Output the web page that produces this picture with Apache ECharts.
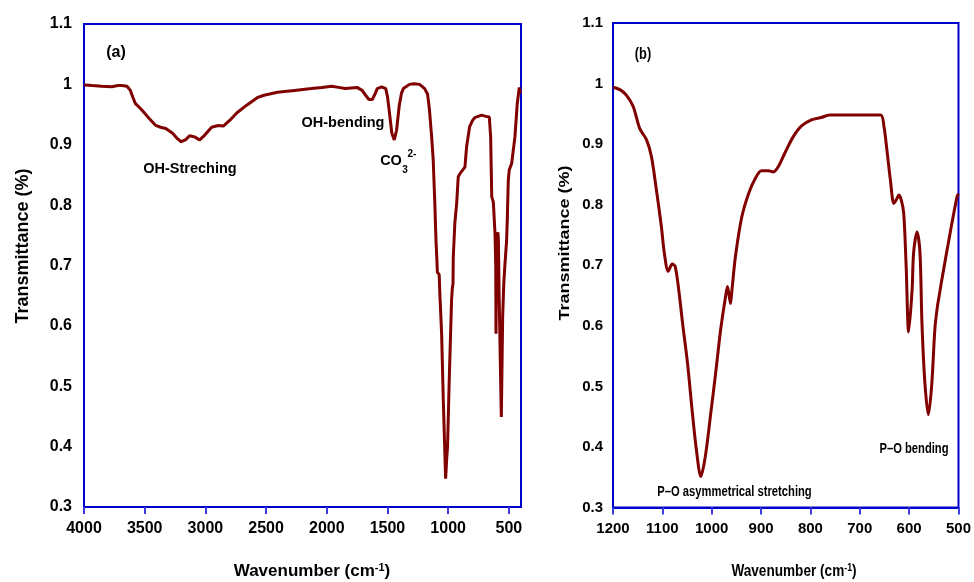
<!DOCTYPE html>
<html>
<head>
<meta charset="utf-8">
<script src="https://cdn.jsdelivr.net/npm/echarts@6/dist/echarts.min.js"></script>
<style>
html,body{margin:0;padding:0;background:#fff;}
#c{width:974px;height:582px;}
</style>
</head>
<body>
<div id="c"></div>
<script>
// ---------- data ----------
const leftWavenumber = [4000,3930,3855,3771,3720,3688,3646,3618,3600,3576,3535,3500,3465,3409,3370,3326,3270,3230,3200,3164,3130,3089,3047,3005,2949,2894,2852,2796,2740,2657,2573,2517,2406,2266,2127,2040,1960,1904,1848,1751,1709,1680,1653,1625,1600,1584,1547,1514,1500,1486,1464,1444,1425,1403,1385,1369,1319,1280,1235,1194,1170,1155,1136,1123,1110,1100,1092,1089,1074,1068,1054,1040,1028,1021,1012,1005,992,980,972,966,960,958,945,930,917,900,889,862,848,823,800,781,724,690,661,650,641,628,622,614,608,606,602,596,590,586,580,573,567,562,556,551,542,532,519,513,505,497,477,450,431,414,405];
const leftTransmittance = [0.999,0.998,0.997,0.996,0.998,0.998,0.997,0.990,0.980,0.968,0.960,0.952,0.944,0.932,0.929,0.927,0.919,0.910,0.905,0.908,0.915,0.913,0.908,0.916,0.929,0.932,0.931,0.941,0.953,0.966,0.978,0.982,0.987,0.990,0.993,0.995,0.997,0.995,0.993,0.995,0.990,0.982,0.975,0.975,0.985,0.993,0.996,0.993,0.980,0.957,0.919,0.908,0.924,0.965,0.985,0.993,1.000,1.001,1.000,0.993,0.984,0.960,0.913,0.874,0.803,0.740,0.705,0.689,0.685,0.650,0.588,0.476,0.394,0.347,0.380,0.400,0.505,0.588,0.642,0.662,0.670,0.714,0.770,0.803,0.847,0.853,0.855,0.863,0.897,0.930,0.940,0.945,0.949,0.947,0.946,0.913,0.814,0.805,0.803,0.753,0.700,0.587,0.700,0.750,0.755,0.740,0.650,0.570,0.500,0.449,0.540,0.615,0.670,0.703,0.740,0.775,0.840,0.858,0.869,0.913,0.968,0.995,0.985];

const rightWavenumber = [1200,1186,1173,1159,1146,1132,1122,1112,1102,1096,1088,1080,1074,1066,1059,1049,1039,1031,1022,1013,1002,992,982,972,968,962,959,952,939,925,912,899,885,875,865,852,835,818,798,778,761,711,658,651,645,638,631,626,621,616,611,606,601,594,591,584,578,574,568,561,554,548,543,538,534,517,503,500];
const rightTransmittance = [0.994,0.990,0.981,0.962,0.926,0.907,0.879,0.824,0.764,0.720,0.690,0.702,0.698,0.654,0.604,0.538,0.455,0.395,0.351,0.384,0.455,0.522,0.593,0.648,0.665,0.637,0.659,0.714,0.780,0.819,0.843,0.856,0.856,0.854,0.863,0.885,0.912,0.930,0.940,0.944,0.948,0.948,0.948,0.929,0.890,0.841,0.802,0.808,0.816,0.808,0.786,0.698,0.590,0.659,0.720,0.755,0.720,0.604,0.505,0.453,0.505,0.593,0.630,0.655,0.675,0.753,0.813,0.818];

const leftTicks = [4000,3500,3000,2500,2000,1500,1000,500];
const rightTicks = [1200,1100,1000,900,800,700,600,500];

const leftNotes = ['(a)','OH-Streching','OH-bending','CO','3','2-'];
const rightNotes = ['(b)','P\u2013O asymmetrical stretching','P\u2013O bending'];

// ---------- styles ----------
const FONT = "'Liberation Sans', Arial, sans-serif";
const BLUE = '#0000cc';
const TICKBLUE = '#3a3ae0';
const LINE = '#800000';
const SQ = 0.8; // horizontal squeeze of right panel text

function zip(a,b){ return a.map((v,i)=>[v,b[i]]); }

function xAxisCfg(gi, min, max, ticks, size, useCustom){
  const c = {
    type:'value', gridIndex:gi, inverse:true, min:min, max:max,
    axisLine:{show:true, onZero:false, lineStyle:{color:BLUE, width:2}},
    axisTick:{show:true, length:7, lineStyle:{color:TICKBLUE, width:2}},
    axisLabel:{color:'#000', fontSize:size, fontWeight:'bold', fontFamily:FONT, margin:14,
      formatter:v=>String(Math.round(v))},
    splitLine:{show:false}
  };
  if(useCustom){
    c.axisTick.customValues = ticks;
    c.axisLabel.customValues = ticks;
  } else {
    c.interval = 100;
  }
  return c;
}
function yAxisCfg(gi, size, margin){
  return {
    type:'value', gridIndex:gi, min:0.3, max:1.1, interval:0.1,
    axisLine:{show:true, lineStyle:{color:BLUE, width:2}},
    axisTick:{show:false},
    axisLabel:{color:'#000', fontSize:size, fontWeight:'bold', fontFamily:FONT, margin:margin,
      formatter:v=>String(+v.toFixed(1))},
    splitLine:{show:false}
  };
}
function txt(x,y,text,size,extra){
  return Object.assign({type:'text', x:x, y:y, silent:true,
    style:{text:text, fill:'#000', fontSize:size, fontWeight:'bold', fontFamily:FONT,
      align:'center', verticalAlign:'middle'}}, extra||{});
}
function titleX(x,y,extra){
  return Object.assign({type:'text', x:x, y:y, silent:true,
    style:{text:'Wavenumber (cm{s|-1})', fill:'#000', fontSize:17, fontWeight:'bold', fontFamily:FONT,
      align:'center', verticalAlign:'middle',
      rich:{s:{fontSize:11, fontWeight:'bold', fontFamily:FONT, verticalAlign:'top', fill:'#000'}}}}, extra||{});
}

const chart = echarts.init(document.getElementById('c'), null, {renderer:'canvas'});
chart.setOption({
  animation:false,
  backgroundColor:'#fff',
  grid:[
    {left:84, top:24, width:437, height:483, show:true, borderColor:BLUE, borderWidth:2, backgroundColor:'transparent'},
    {left:613, top:23, width:349, height:484.5, show:true, borderColor:BLUE, borderWidth:2, backgroundColor:'transparent'}
  ],
  xAxis:[
    xAxisCfg(0, 400, 4000, leftTicks, 16, true),
    xAxisCfg(1, 500, 1200, rightTicks, 15, false)
  ],
  yAxis:[ yAxisCfg(0, 16, 12), yAxisCfg(1, 15, 10) ],
  series:[
    {type:'line', xAxisIndex:0, yAxisIndex:0, data:zip(leftWavenumber,leftTransmittance),
      showSymbol:false, lineStyle:{color:LINE, width:3}, smooth:false},
    {type:'line', xAxisIndex:1, yAxisIndex:1, data:zip(rightWavenumber,rightTransmittance),
      showSymbol:false, lineStyle:{color:LINE, width:3}, smooth:0.3}
  ],
  graphic:[
    txt(23.5, 246, 'Transmittance (%)', 18, {rotation:Math.PI/2}),
    txt(565, 243, 'Transmittance (%)', 18, {rotation:Math.PI/2, scaleY:SQ}),
    titleX(312, 571),
    titleX(794, 571, {scaleX:SQ}),
    txt(116, 53, leftNotes[0], 16),
    txt(190, 169, leftNotes[1], 14.5),
    txt(343, 122.5, leftNotes[2], 14.5),
    txt(391, 161, leftNotes[3], 14.5),
    txt(405, 170, leftNotes[4], 10),
    txt(412, 154, leftNotes[5], 10),
    txt(643, 55, rightNotes[0], 16, {scaleX:SQ}),
    txt(734.5, 491.7, rightNotes[1], 14, {scaleX:SQ}),
    txt(914, 448.7, rightNotes[2], 14, {scaleX:SQ})
  ]
});
</script>
</body>
</html>
